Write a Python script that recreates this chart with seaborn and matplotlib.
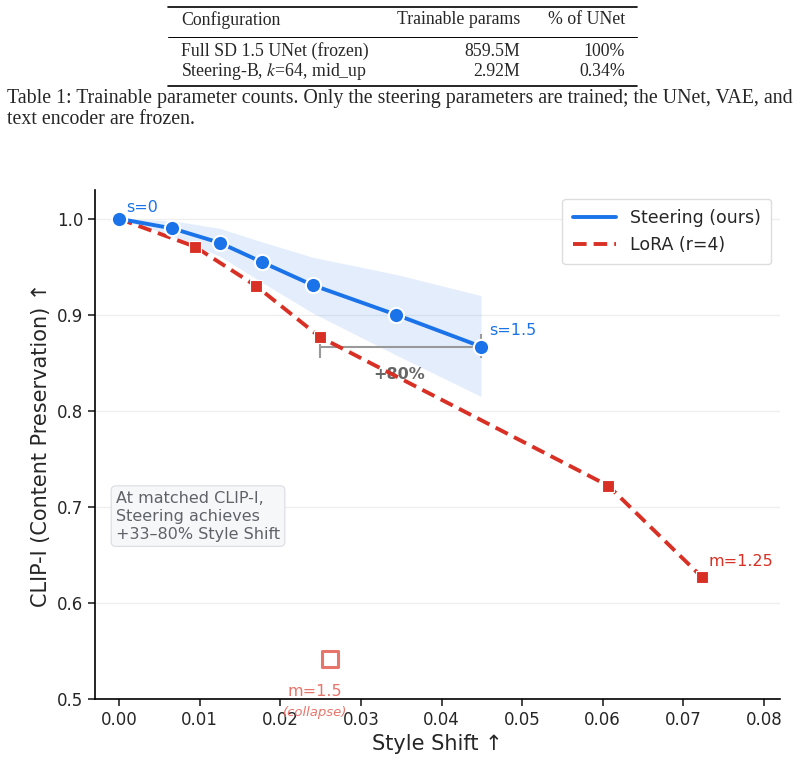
import matplotlib
matplotlib.use("Agg")
import matplotlib.pyplot as plt
from matplotlib.lines import Line2D
import seaborn as sns

# table values
table_header = ["Configuration", "Trainable params", "% of UNet"]
table_rows = [
    ["Full SD 1.5 UNet (frozen)", "859.5M", "100%"],
    ["Steering-B, $k$=64, mid_up", "2.92M", "0.34%"],
]
caption_lines = [
    "Table 1: Trainable parameter counts. Only the steering parameters are trained; the UNet, VAE, and",
    "text encoder are frozen.",
]

# steering curve (s = 0 ... 1.5)
steer_shift = [0.0, 0.0066, 0.0125, 0.0177, 0.0240, 0.0344, 0.0449]
steer_clip = [1.0, 0.990, 0.975, 0.955, 0.931, 0.900, 0.867]
steer_upper = [1.0, 0.998, 0.990, 0.976, 0.960, 0.942, 0.920]
steer_lower = [1.0, 0.982, 0.961, 0.934, 0.902, 0.858, 0.815]

# LoRA curve (m = 0 ... 1.25)
lora_shift = [0.0, 0.0094, 0.0170, 0.0249, 0.0607, 0.0723]
lora_clip = [1.0, 0.971, 0.930, 0.877, 0.722, 0.627]

# collapsed LoRA point (m = 1.5)
collapse_shift = [0.0262]
collapse_clip = [0.542]

blue = "#1a73e8"
red = "#d93025"
light_red = "#e8756c"

sns.set_style("white")
plt.rcParams["font.family"] = ["DejaVu Sans"]
plt.rcParams["mathtext.fontset"] = "stix"

fig = plt.figure(figsize=(8.05, 7.68), dpi=100)

# ---- table + caption ----
serif = "Liberation Serif"
col_x = [181 / 805, 520 / 805, 625 / 805]
col_ha = ["left", "right", "right"]
hdr_y = 1 - 20 / 768
row_y = [1 - 51 / 768, 1 - 71 / 768]
for x, ha, t in zip(col_x, col_ha, table_header):
    fig.text(x, hdr_y, t, ha=ha, va="center", family=serif, fontsize=12.8)
for ry, row in zip(row_y, table_rows):
    for x, ha, t in zip(col_x, col_ha, row):
        fig.text(x, ry, t, ha=ha, va="center", family=serif, fontsize=12.8)
for yy, lw in [(7, 1.2), (37, 0.7), (86, 1.2)]:
    fig.add_artist(Line2D([168 / 805, 637 / 805], [1 - yy / 768] * 2,
                          color="black", lw=lw, transform=fig.transFigure))
fig.text(7 / 805, 1 - 99 / 768, caption_lines[0], ha="left", va="center",
         family=serif, fontsize=14.3)
fig.text(7 / 805, 1 - 119 / 768, caption_lines[1], ha="left", va="center",
         family=serif, fontsize=14.3)

# ---- chart ----
ax = fig.add_axes([95 / 805, 69 / 768, 685 / 805, 509 / 768])

ax.fill_between(steer_shift, steer_lower, steer_upper, color=blue, alpha=0.12,
                lw=0, zorder=1)
sns.lineplot(x=lora_shift, y=lora_clip, ax=ax, color=red, lw=2.8,
             linestyle=(0, (3.5, 1.8)), marker="s", markersize=9,
             markeredgecolor="white", markeredgewidth=0.8, zorder=3)
sns.lineplot(x=steer_shift, y=steer_clip, ax=ax, color=blue, lw=2.8,
             marker="o", markersize=11, markeredgecolor="white",
             markeredgewidth=1.5, zorder=4)
sns.scatterplot(x=collapse_shift, y=collapse_clip, ax=ax, marker="s", s=130,
                facecolor="none", edgecolor=light_red, linewidth=2.2, zorder=3)

# bracket showing the style-shift gain
ax.hlines(steer_clip[-1], lora_shift[3], steer_shift[-1], color="#999999",
          lw=1.5, zorder=2)
ax.vlines([lora_shift[3], steer_shift[-1]], 0.855, 0.88, color="#999999",
          lw=1.5, zorder=2)
ax.text(0.0347, 0.8375, "+80%", ha="center", va="center", fontsize=11.5,
        fontweight="bold", color="#666666", zorder=2)

ax.text(0.0009, 1.012, "s=0", color=blue, fontsize=11.5, ha="left", va="center")
ax.text(0.0459, 0.884, "s=1.5", color=blue, fontsize=11.5, ha="left", va="center")
ax.text(0.0731, 0.643, "m=1.25", color=red, fontsize=11.5, ha="left", va="center")
ax.text(0.0243, 0.508, "m=1.5", color=light_red, fontsize=11.5, ha="center",
        va="center")
ax.text(0.0243, 0.486, "(collapse)", color=light_red, fontsize=9.5,
        style="italic", ha="center", va="center")

ax.text(-0.0004, 0.717, "At matched CLIP-I,\nSteering achieves\n+33\u201380% Style Shift",
        ha="left", va="top", fontsize=11.5, color="#5f6368", linespacing=1.25,
        bbox=dict(boxstyle="round,pad=0.3", facecolor="#f6f7f9",
                  edgecolor="#dadce0", lw=0.8))

ax.set_xlim(-0.003, 0.082)
ax.set_ylim(0.5, 1.03)
ax.set_xticks([0.0, 0.01, 0.02, 0.03, 0.04, 0.05, 0.06, 0.07, 0.08])
ax.set_xticklabels(["0.00", "0.01", "0.02", "0.03", "0.04", "0.05", "0.06",
                    "0.07", "0.08"])
ax.set_yticks([0.5, 0.6, 0.7, 0.8, 0.9, 1.0])
ax.set_yticklabels(["0.5", "0.6", "0.7", "0.8", "0.9", "1.0"])
ax.tick_params(axis="both", labelsize=12, length=5, width=1.2, direction="out",
               bottom=True, left=True)
ax.yaxis.grid(True, color="#eeeeee", lw=0.9)
ax.set_axisbelow(True)
for side in ["top", "right"]:
    ax.spines[side].set_visible(False)
for side in ["left", "bottom"]:
    ax.spines[side].set_color("black")
    ax.spines[side].set_linewidth(1.2)

ax.set_xlabel("Style Shift \u2191", fontsize=15)
ax.set_ylabel("CLIP-I (Content Preservation) \u2191", fontsize=15)

handles = [Line2D([], [], color=blue, lw=2.8),
           Line2D([], [], color=red, lw=2.8, linestyle=(0, (3.5, 1.8)))]
ax.legend(handles, ["Steering (ours)", "LoRA (r=4)"], loc="upper right",
          fontsize=12.5, frameon=True, framealpha=1, edgecolor="#dddddd",
          borderpad=0.6, handlelength=2.5)

fig.savefig("out.png", dpi=100)
